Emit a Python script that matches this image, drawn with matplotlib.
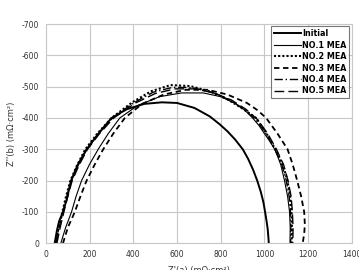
import matplotlib
matplotlib.use("Agg")
import matplotlib.pyplot as plt

plt.rcParams['axes.unicode_minus'] = False

# Nyquist data (Z' in mOhm*cm2, Z'' negative)
initial_x = [40, 50, 60, 78, 95, 115, 145, 186, 240, 300, 370, 450, 530, 600, 680, 750, 795, 830, 865, 901, 925, 948, 967, 983, 995, 1003, 1010, 1015, 1018, 1020]
initial_y = [0, -40, -70, -100, -140, -200, -250, -300, -350, -400, -428, -445, -450, -448, -432, -405, -380, -358, -332, -300, -270, -235, -200, -165, -132, -100, -70, -45, -20, 0]

no1_x = [68, 90, 117, 138, 163, 198, 239, 285, 338, 420, 520, 620, 720, 800, 870, 910, 946, 975, 1000, 1025, 1047, 1062, 1075, 1092, 1106, 1115, 1118, 1117]
no1_y = [0, -50, -100, -150, -200, -250, -300, -350, -400, -440, -468, -480, -480, -468, -445, -425, -400, -376, -350, -325, -300, -275, -250, -200, -150, -100, -50, 0]

no2_x = [45, 58, 75, 92, 112, 143, 180, 235, 300, 395, 480, 570, 660, 750, 830, 900, 962, 1010, 1050, 1085, 1105, 1118, 1124, 1126, 1125]
no2_y = [0, -50, -100, -150, -200, -250, -300, -350, -400, -450, -485, -505, -502, -485, -460, -430, -400, -350, -300, -250, -200, -150, -100, -50, 0]

no3_x = [78, 100, 132, 158, 186, 222, 262, 308, 361, 440, 540, 640, 740, 830, 920, 968, 1008, 1060, 1106, 1130, 1150, 1168, 1182, 1185, 1182, 1175]
no3_y = [0, -50, -100, -150, -200, -250, -300, -350, -400, -445, -475, -490, -490, -475, -448, -425, -400, -350, -300, -250, -200, -150, -100, -60, -30, 0]

no4_x = [45, 60, 78, 96, 116, 148, 186, 240, 305, 400, 490, 580, 670, 760, 840, 905, 960, 1008, 1048, 1080, 1100, 1113, 1119, 1121, 1120]
no4_y = [0, -50, -100, -150, -200, -250, -300, -350, -400, -448, -482, -498, -497, -482, -458, -428, -395, -350, -300, -250, -200, -150, -100, -50, 0]

no5_x = [50, 65, 82, 100, 120, 152, 190, 245, 310, 410, 500, 590, 680, 770, 850, 915, 968, 1015, 1055, 1088, 1108, 1122, 1128, 1131, 1130]
no5_y = [0, -50, -100, -150, -200, -250, -300, -350, -400, -448, -478, -493, -493, -480, -457, -428, -395, -350, -300, -250, -200, -150, -100, -50, 0]

x_ticks = [0, 200, 400, 600, 800, 1000, 1200, 1400]
y_ticks = [0, -100, -200, -300, -400, -500, -600, -700]

fig = plt.figure(figsize=(3.59, 2.70), dpi=100)
ax = fig.add_axes([0.128, 0.099, 0.852, 0.812])

ax.plot(initial_x, initial_y, color='black', lw=1.4, label='Initial')
ax.plot(no1_x, no1_y, color='black', lw=0.8, label='NO.1 MEA')
ax.plot(no2_x, no2_y, color='black', lw=1.5, ls=(0, (1, 1)), label='NO.2 MEA')
ax.plot(no3_x, no3_y, color='black', lw=1.3, ls=(0, (3, 2)), label='NO.3 MEA')
ax.plot(no4_x, no4_y, color='black', lw=1.0, ls=(0, (6, 2, 1, 2)), label='NO.4 MEA')
ax.plot(no5_x, no5_y, color='black', lw=1.0, ls=(0, (7, 3)), label='NO.5 MEA')

ax.set_xlim(0, 1400)
ax.set_ylim(0, -700)
ax.set_xticks(x_ticks)
ax.set_yticks(y_ticks)
ax.tick_params(length=0, labelsize=5.5, colors='#333333', pad=5)
ax.grid(True, color='#c8c8c8', lw=0.8)
ax.set_axisbelow(True)
for s in ax.spines.values():
    s.set_color('#c8c8c8')
    s.set_linewidth(0.8)

ax.set_xlabel("Z'(a) (mΩ·cm²)", fontsize=6, color='#333333', labelpad=5)
ax.set_ylabel("Z''(b) (mΩ·cm²)", fontsize=6, color='#333333', labelpad=4)

leg = ax.legend(loc='upper right', fontsize=5.8, frameon=True, fancybox=False,
                handlelength=3.3, handletextpad=0.15, borderpad=0.35,
                labelspacing=0.3, borderaxespad=0.3)
leg.get_frame().set_edgecolor('#555555')
leg.get_frame().set_linewidth(0.8)
for t in leg.get_texts():
    t.set_fontweight('bold')

fig.savefig('out.png', dpi=100)
